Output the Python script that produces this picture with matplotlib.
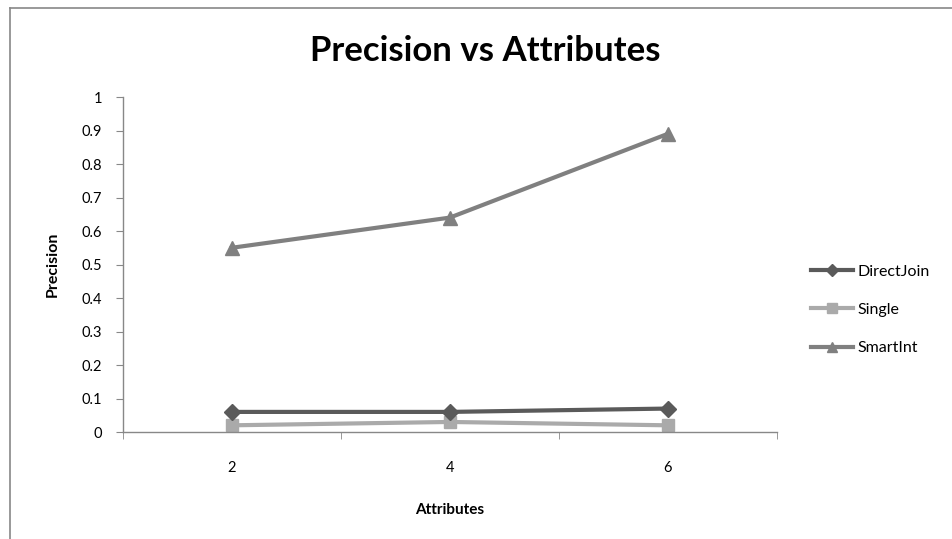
import matplotlib
matplotlib.use("Agg")
import matplotlib.pyplot as plt
from matplotlib.lines import Line2D

categories = ["2", "4", "6"]
direct_join = [0.06, 0.06, 0.07]
single = [0.02, 0.03, 0.02]
smart_int = [0.55, 0.64, 0.89]
y_ticks = [0, 0.1, 0.2, 0.3, 0.4, 0.5, 0.6, 0.7, 0.8, 0.9, 1]
y_tick_labels = ["0", "0.1", "0.2", "0.3", "0.4", "0.5", "0.6", "0.7", "0.8", "0.9", "1"]

plt.rcParams['font.family'] = ['Lato', 'DejaVu Sans']

fig = plt.figure(figsize=(9.53, 5.39), dpi=100)
ax = fig.add_axes([0.129, 0.1985, 0.686, 0.6215])

x = list(range(len(categories)))
ax.plot(x, direct_join, color="#5a5a5a", lw=3, marker="D", ms=8, label="DirectJoin", zorder=3)
ax.plot(x, single, color="#aaaaaa", lw=3, marker="s", ms=9, label="Single", zorder=2)
ax.plot(x, smart_int, color="#808080", lw=3, marker="^", ms=10, label="SmartInt", zorder=3)

ax.set_xlim(-0.5, len(categories) - 0.5)
ax.set_ylim(0, 1)
ax.set_yticks(y_ticks)
ax.set_yticklabels(y_tick_labels, fontsize=10.5)
ax.set_xticks(x)
ax.set_xticklabels(categories, fontsize=10.5)
ax.set_xticks([i - 0.5 for i in range(len(categories) + 1)], minor=True)
ax.tick_params(axis='x', which='major', length=0, pad=21)
ax.tick_params(axis='x', which='minor', length=5, color="#888888", direction='out')
ax.tick_params(axis='y', which='major', length=5, color="#888888", direction='out', pad=10)

for s in ["top", "right"]:
    ax.spines[s].set_visible(False)
for s in ["left", "bottom"]:
    ax.spines[s].set_color("#888888")
    ax.spines[s].set_linewidth(1)

ax.set_xlabel("Attributes", fontsize=11, fontweight="bold", labelpad=20)
ax.set_ylabel("Precision", fontsize=11.5, fontweight="bold", labelpad=16)

fig.text(0.509, 0.905, "Precision vs Attributes", ha="center", va="center",
         fontsize=25, fontweight="bold")

leg = fig.legend(loc="center left", bbox_to_anchor=(0.836, 0.425), frameon=False,
                 fontsize=11.5, handlelength=2.6, labelspacing=1.5, handletextpad=0.3,
                 markerscale=0.75)

# outer border
fig.add_artist(Line2D([0.0105, 0.0105], [0.0, 0.985], transform=fig.transFigure,
                      color="#888888", lw=1.2))
fig.add_artist(Line2D([0.0105, 1.0], [0.985, 0.985], transform=fig.transFigure,
                      color="#888888", lw=1.2))

fig.savefig("out.png", dpi=100)
